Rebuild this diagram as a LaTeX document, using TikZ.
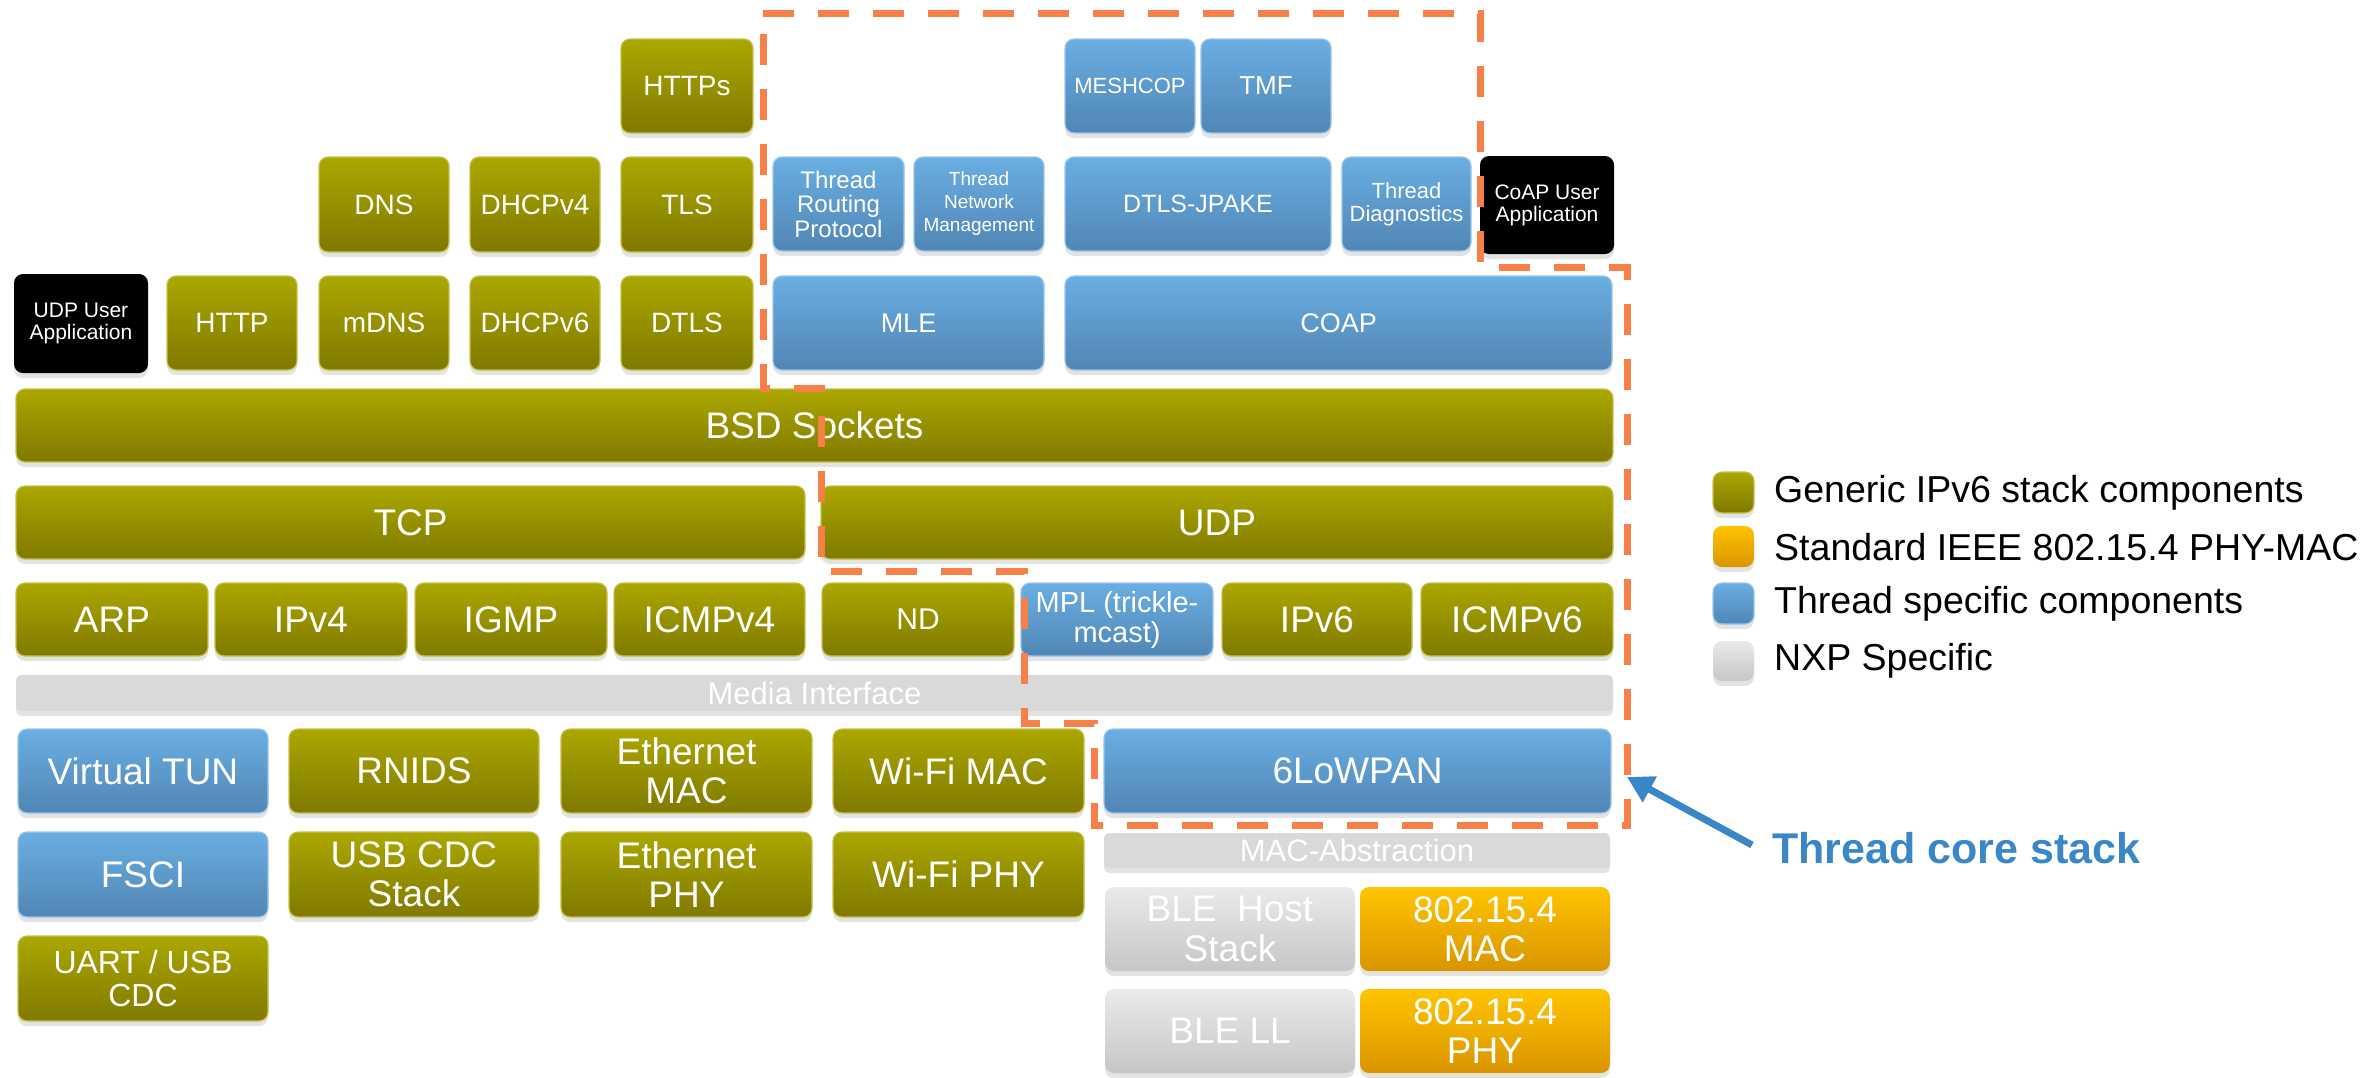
\documentclass[tikz,border=0pt]{standalone}
\usepackage{fontspec}
\setmainfont{Liberation Sans}
\usetikzlibrary{shadows,arrows.meta}
\definecolor{olT}{RGB}{171,167,0}
\definecolor{olB}{RGB}{128,121,0}
\definecolor{blT}{RGB}{106,174,227}
\definecolor{blB}{RGB}{80,134,180}
\definecolor{orT}{RGB}{255,196,0}
\definecolor{orB}{RGB}{217,149,0}
\definecolor{grT}{RGB}{234,234,234}
\definecolor{grB}{RGB}{198,198,198}
\definecolor{barG}{RGB}{217,217,217}
\definecolor{dashO}{RGB}{246,128,72}
\definecolor{arrB}{RGB}{58,135,200}
\tikzset{
 base/.style={rounded corners=9pt, inner sep=0pt, outer sep=0pt, align=center, text=white,
   drop shadow={opacity=0.22, shadow xshift=0pt, shadow yshift=-5pt}},
 gen/.style={base, top color=olT, bottom color=olB, draw=olT!70!white, line width=1.2pt},
 thr/.style={base, top color=blT, bottom color=blB, draw=blT!70!white, line width=1.2pt},
 std/.style={base, top color=orT, bottom color=orB},
 nxp/.style={base, top color=grT, bottom color=grB},
 bar/.style={base, rounded corners=5pt, fill=barG},
 app/.style={base, fill=black},
 fA/.style={font=\fontsize{37}{39}\selectfont},
 fB/.style={font=\fontsize{28}{30}\selectfont},
 fC/.style={font=\fontsize{21}{22}\selectfont},
 fD/.style={font=\fontsize{31}{33}\selectfont},
 legtext/.style={anchor=west, text=black, inner sep=0pt, font=\fontsize{37.5}{40}\selectfont},
 coreline/.style={draw=dashO, line width=7pt, dash pattern=on 31pt off 24pt},
}
\newcommand\bx[7]{\node[#1, minimum width={#5-#3}, minimum height={#6-#4}] (#2) at ({(#3+#5)/2},{(#4+#6)/2}) {#7};}
\begin{document}
\begin{tikzpicture}[x=1pt,y=-1pt]
\useasboundingbox (0,0) rectangle (2371,1077);
% application row
\bx{gen,fB}{https}{621}{39}{753}{133}{HTTPs}
\bx{thr,font=\fontsize{22}{24}\selectfont}{meshcop}{1065}{39}{1195}{133}{MESHCOP}
\bx{thr,font=\fontsize{26}{28}\selectfont}{tmf}{1201}{39}{1331}{133}{TMF}
\bx{gen,fB}{dns}{319}{157}{449}{252}{DNS}
\bx{gen,fB}{dhcpv4}{470}{157}{600}{252}{DHCPv4}
\bx{gen,fB}{tls}{621}{157}{753}{252}{TLS}
\bx{thr,font=\fontsize{24}{24.5}\selectfont}{trp}{773}{157}{904}{251}{Thread\\Routing\\Protocol}
\bx{thr,font=\fontsize{19}{23}\selectfont}{tnm}{914}{157}{1044}{251}{Thread\\Network\\Management}
\bx{thr,font=\fontsize{25}{27}\selectfont}{jpake}{1065}{157}{1331}{251}{DTLS-JPAKE}
\bx{thr,font=\fontsize{22}{23}\selectfont}{tdiag}{1342}{157}{1471}{251}{Thread\\Diagnostics}
\bx{app,fC}{coapapp}{1480}{156}{1614}{254}{CoAP User\\Application}
\bx{app,fC}{udpapp}{14}{274}{148}{373}{UDP User\\Application}
\bx{gen,fB}{http}{167}{276}{297}{370}{HTTP}
\bx{gen,fB}{mdns}{319}{276}{449}{370}{mDNS}
\bx{gen,fB}{dhcpv6}{470}{276}{600}{370}{DHCPv6}
\bx{gen,fB}{dtls}{621}{276}{753}{370}{DTLS}
\bx{thr,font=\fontsize{27}{29}\selectfont}{mle}{773}{276}{1044}{370}{MLE}
\bx{thr,font=\fontsize{27}{29}\selectfont}{coap}{1065}{276}{1612}{370}{COAP}
% transport
\bx{gen,fA}{bsd}{16}{389}{1613}{462}{BSD Sockets}
\bx{gen,fA}{tcp}{16}{486}{805}{559}{TCP}
\bx{gen,fA}{udp}{821}{486}{1613}{559}{UDP}
% network
\bx{gen,fA}{arp}{16}{583}{208}{656}{ARP}
\bx{gen,fA}{ipv4}{215}{583}{407}{656}{IPv4}
\bx{gen,fA}{igmp}{415}{583}{607}{656}{IGMP}
\bx{gen,fA}{icmpv4}{614}{583}{805}{656}{ICMPv4}
\bx{gen,font=\fontsize{30}{32}\selectfont}{nd}{822}{583}{1014}{656}{ND}
\bx{thr,font=\fontsize{29}{30}\selectfont}{mpl}{1021}{583}{1213}{656}{MPL (trickle-\\mcast)}
\bx{gen,fA}{ipv6}{1222}{583}{1412}{656}{IPv6}
\bx{gen,fA}{icmpv6}{1421}{583}{1613}{656}{ICMPv6}
\bx{bar,fD}{media}{16}{675}{1613}{711}{Media Interface}
% link
\bx{thr,fA}{vtun}{18}{729}{268}{813}{Virtual TUN}
\bx{gen,fA}{rnids}{289}{729}{539}{813}{RNIDS}
\bx{gen,fA}{ethmac}{561}{729}{812}{813}{Ethernet\\MAC}
\bx{gen,fA}{wifimac}{833}{729}{1084}{813}{Wi-Fi MAC}
\bx{thr,fA}{lowpan}{1104}{729}{1611}{813}{6LoWPAN}
\bx{thr,fA}{fsci}{18}{832}{268}{917}{FSCI}
\bx{gen,fA}{usbcdc}{289}{832}{539}{917}{USB CDC\\Stack}
\bx{gen,fA}{ethphy}{561}{832}{812}{917}{Ethernet\\PHY}
\bx{gen,fA}{wifiphy}{833}{832}{1084}{917}{Wi-Fi PHY}
\bx{bar,fD}{macabs}{1104}{833}{1610}{868}{MAC-Abstraction}
\bx{gen,font=\fontsize{32}{33}\selectfont}{uart}{18}{936}{268}{1021}{UART / USB\\CDC}
\bx{nxp,font=\fontsize{37}{40}\selectfont}{blehost}{1105}{887}{1355}{971}{BLE\ \ Host\\Stack}
\bx{std,font=\fontsize{37}{39}\selectfont}{mac154}{1360}{887}{1610}{971}{802.15.4\\MAC}
\bx{nxp,fA}{blell}{1105}{989}{1355}{1073}{BLE LL}
\bx{std,font=\fontsize{37}{39}\selectfont}{phy154}{1360}{989}{1610}{1073}{802.15.4\\PHY}
% thread core stack outline
\draw[coreline] (763,13) -- (1480,13) -- (1480,267) -- (1627,267) -- (1627,825)
  -- (1094,825) -- (1094,723) -- (1024,723) -- (1024,571) -- (821,571)
  -- (821,388) -- (763,388) -- cycle;
% legend
\bx{gen}{lg1}{1713}{472}{1754}{513}{}
\bx{std}{lg2}{1713}{526}{1754}{567}{}
\bx{thr}{lg3}{1713}{583}{1754}{624}{}
\bx{nxp}{lg4}{1713}{641}{1754}{681}{}
\node[legtext] (lt1) at (1774,493) {Generic IPv6 stack components};
\node[legtext] (lt2) at (1774,547) {Standard IEEE 802.15.4 PHY-MAC};
\node[legtext] (lt3) at (1774,604) {Thread specific components};
\node[legtext] (lt4) at (1774,661) {NXP Specific};
% callout
\node[anchor=west, inner sep=0pt, text=arrB, font=\fontsize{43}{45}\selectfont\bfseries] (core) at (1772,848) {Thread core stack};
\coordinate (tip) at (1627,777);
\coordinate (tail) at (1752,845);
\draw[arrB, line width=7pt, -{Triangle[length=26pt,width=28pt]}] (tail) -- (tip);
\end{tikzpicture}
\end{document}
